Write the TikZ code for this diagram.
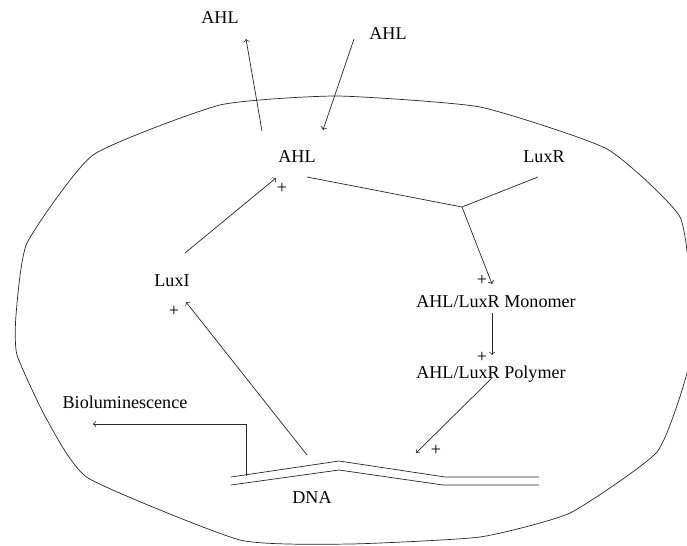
\documentclass[tikz,border=0pt]{standalone}
\usepackage{fontspec}
\setmainfont{Liberation Serif}
\usepackage{tikz}

\begin{document}
\begin{tikzpicture}[scale=0.2]
              \tikzstyle{every node}+=[inner sep=0pt, font=\fontsize{10.3}{12}\selectfont]
              \tikzstyle{lbl}=[anchor=base]
              \tikzstyle{conn}=[black!85, thin]
              \useasboundingbox (0,0) rectangle (68.7,-54.5);
              % cell wall
              \draw [black!85, thin] plot [smooth cycle, tension=0.3] coordinates {
                (1.6,-31.5) (2.7,-24.3) (9.3,-15.5) (22.0,-10.5) (33.7,-9.6)
                (48.0,-10.7) (60.7,-14.9) (68.0,-21.7) (69.2,-31.0) (68.7,-37.3)
                (65.7,-45.2) (57.0,-51.3) (48.0,-53.7) (35.0,-54.4) (24.0,-54.0)
                (8.8,-47.8) (4.6,-41.8) (1.7,-35.5)};
              % labels
              \node [lbl] (ahlout) at (22.0,-2.4) {AHL};
              \node [lbl] (ahlin) at (38.8,-4.0) {AHL};
              \node [lbl] (ahl) at (29.7,-16.3) {AHL};
              \node [lbl] (luxr) at (54.4,-16.3) {LuxR};
              \node [lbl] (luxi) at (17.2,-28.6) {LuxI};
              \node [lbl] (mono) at (49.6,-30.7) {AHL/LuxR Monomer};
              \node [lbl] (poly) at (49.1,-37.8) {AHL/LuxR Polymer};
              \node [lbl] (biolum) at (12.5,-40.8) {Bioluminescence};
              \node [lbl] (dna) at (31.2,-50.3) {DNA};
              \node (plusahl) at (28.2,-18.8) {+};
              \node (plusmono) at (48.2,-28.0) {+};
              \node (pluspoly) at (48.2,-35.7) {+};
              \node (plusdna) at (43.6,-45.0) {+};
              \node (plusluxi) at (17.4,-31.1) {+};
              % arrow ends
              \coordinate (outs) at (26.2,-13.1);
              \coordinate (oute) at (24.6,-3.9);
              \coordinate (ins) at (35.4,-3.9);
              \coordinate (ine) at (32.3,-13.0);
              \coordinate (luxitop) at (18.5,-25.3);
              \coordinate (ahltip) at (27.6,-17.8);
              \coordinate (ahlr) at (30.7,-17.7);
              \coordinate (junc) at (46.2,-20.7);
              \coordinate (luxrend) at (53.8,-17.7);
              \coordinate (monotip) at (49.2,-28.4);
              \coordinate (monobot) at (49.2,-31.3);
              \coordinate (polytip) at (49.2,-35.5);
              \coordinate (polybot) at (49.2,-37.8);
              \coordinate (dnatip) at (41.6,-45.3);
              \coordinate (dnatop) at (30.7,-45.5);
              \coordinate (luxitip) at (18.6,-30.2);
              \coordinate (bios) at (24.6,-47.6);
              \coordinate (bioc) at (24.6,-42.4);
              \coordinate (bioe) at (9.3,-42.4);
              % connectors
              \draw [conn, ->] (outs) -- (oute);
              \draw [conn, ->] (ins) -- (ine);
              \draw [conn, ->] (luxitop) -- (ahltip);
              \draw [conn] (ahlr) -- (junc) -- (luxrend);
              \draw [conn, ->] (junc) -- (monotip);
              \draw [conn, ->] (monobot) -- (polytip);
              \draw [conn, ->] (polybot) -- (dnatip);
              \draw [conn, ->] (dnatop) -- (luxitip);
              \draw [conn, ->] (bios) -- (bioc) -- (bioe);
              % DNA strands
              \draw [conn] (23.1,-47.7) -- (33.9,-46.1) -- (44.5,-47.7) -- (53.9,-47.7);
              \draw [conn] (23.1,-48.5) -- (33.9,-47.0) -- (44.3,-48.5) -- (53.9,-48.5);
            \end{tikzpicture}
\end{document}
